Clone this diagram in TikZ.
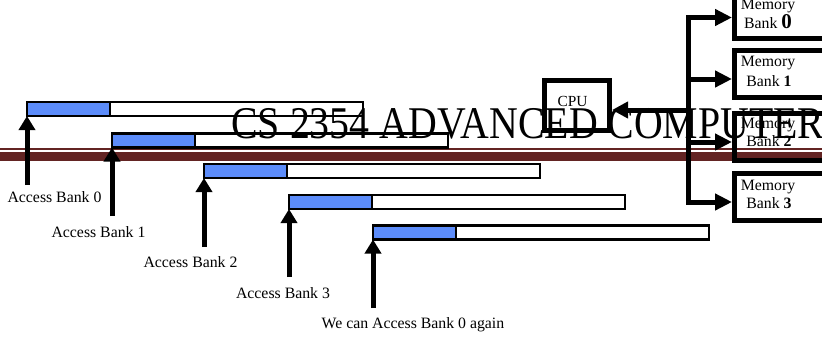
\documentclass[tikz,border=0pt]{standalone}
\usepackage{fontspec}
\setmainfont{Liberation Serif}
\usepackage{graphicx}
\usetikzlibrary{arrows.meta}
\definecolor{slotblue}{RGB}{92,140,250}
\definecolor{rulemaroon}{RGB}{99,36,35}
\tikzset{
  bar/.style={draw=black, line width=1.1pt, fill=white, minimum width=168pt,
    minimum height=7pt, inner sep=0pt, outer sep=0pt, anchor=west},
  busy/.style={bar, fill=slotblue, minimum width=41.5pt},
  uparrow/.style={line width=2.5pt, -{Triangle[length=7pt,width=8pt]}},
  bankbox/.style={draw=black, line width=2.5pt, minimum width=67.75pt,
    minimum height=23.5pt, inner sep=0pt},
  cpubox/.style={draw=black, line width=2.5pt, minimum width=32.5pt,
    minimum height=25pt, inner sep=0pt},
  bus/.style={line width=2.5pt, line join=miter},
  bustip/.style={-{Triangle[length=8.5pt,width=8pt]}},
  lbl/.style={font=\fontsize{7.9pt}{9pt}\selectfont, anchor=base, inner sep=0pt},
}
\begin{document}
\begin{tikzpicture}[x=0.5pt, y=-0.5pt]
  \useasboundingbox (0,0) rectangle (822,337);
  \clip (0,0) rectangle (822,337);

  % header rule
  \draw[rulemaroon, line width=0.8pt] (0,149.2) -- (822,149.2);
  \fill[rulemaroon] (0,152.3) rectangle (822,160.7);

  % interleaved access bars
  \node[bar] (bar0) at (27,109) {};
  \node[busy] (busy0) at (bar0.west) {};
  \node[bar] (bar1) at (112,140.5) {};
  \node[busy] (busy1) at (bar1.west) {};
  \node[bar] (bar2) at (204,171) {};
  \node[busy] (busy2) at (bar2.west) {};
  \node[bar] (bar3) at (289,202) {};
  \node[busy] (busy3) at (bar3.west) {};
  \node[bar] (bar4) at (373,232.5) {};
  \node[busy] (busy4) at (bar4.west) {};

  % access arrows
  \coordinate (s0) at (27,185);
  \coordinate (s1) at (112,216);
  \coordinate (s2) at (204,247);
  \coordinate (s3) at (289,277);
  \coordinate (s4) at (373,308);
  \draw[uparrow] (s0) -- (bar0.south west);
  \draw[uparrow] (s1) -- (bar1.south west);
  \draw[uparrow] (s2) -- (bar2.south west);
  \draw[uparrow] (s3) -- (bar3.south west);
  \draw[uparrow] (s4) -- (bar4.south west);

  \node[lbl] (l0) at (54.5,202) {Access Bank 0};
  \node[lbl] (l1) at (98.5,237) {Access Bank 1};
  \node[lbl] (l2) at (190.5,267) {Access Bank 2};
  \node[lbl] (l3) at (283,298) {Access Bank 3};
  \node[lbl] (l4) at (413,328.5) {We can Access Bank 0 again};

  % CPU and memory banks
  \node[cpubox] (cpu) at (577,105.5) {};
  \node[lbl, font=\fontsize{7.7pt}{9pt}\selectfont] (cputxt) at (572.5,106) {CPU};

  \node[bankbox] (bank0) at (802.25,15) {};
  \node[bankbox] (bank1) at (802.25,74) {};
  \node[bankbox] (bank2) at (802.25,136.5) {};
  \node[bankbox] (bank3) at (802.25,196.5) {};

  \node[lbl] (m0) at (768,10) {Memory};
  \node[lbl] (n0) at (768,28.5) {Bank {\fontsize{10.5pt}{10pt}\selectfont\bfseries 0}};
  \node[lbl] (m1) at (768,66) {Memory};
  \node[lbl] (n1) at (769,86) {Bank \textbf{1}};
  \node[lbl] (m2) at (768,128) {Memory};
  \node[lbl] (n2) at (769,146.5) {Bank \textbf{2}};
  \node[lbl] (m3) at (768,190) {Memory};
  \node[lbl] (n3) at (769,208) {Bank \textbf{3}};

  % memory bus
  \coordinate (btop) at (688,17.5);
  \coordinate (bbot) at (688,202);
  \coordinate (bj1) at (688,79);
  \coordinate (bj2) at (688,142);
  \coordinate (bcpu) at (688,110);
  \draw[bus, {Triangle[length=8.5pt,width=8pt]}-{Triangle[length=8.5pt,width=8pt]}]
    (btop -| bank0.west) -- (btop) -- (bbot) -- (bbot -| bank3.west);
  \draw[bus, bustip] (bj1) -- (bj1 -| bank1.west);
  \draw[bus, bustip] (bj2) -- (bj2 -| bank2.west);
  \draw[bus, -{Triangle[length=8pt,width=8pt]}] (bcpu) -- (bcpu -| cpu.east);

  % course title
  \node[anchor=base west, inner sep=0pt, font=\fontsize{19.9pt}{24pt}\selectfont]
    (title) at (231,138) {\scalebox{1}[1.14]{CS 2354 ADVANCED COMPUTER}};
\end{tikzpicture}
\end{document}
